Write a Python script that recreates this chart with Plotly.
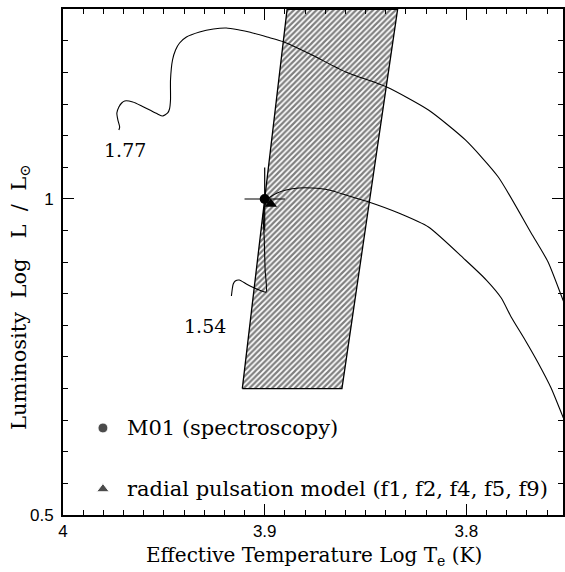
import plotly.graph_objects as go

# Evolutionary track, 1.77 Msun
track177_x = [3.9723, 3.9719, 3.9728, 3.9733, 3.9723, 3.9709, 3.9694, 3.9654, 3.9610, 3.9570,
              3.9531, 3.9506, 3.9481, 3.9472, 3.9467, 3.9467, 3.9457, 3.9442, 3.9422, 3.9388,
              3.9323, 3.9254, 3.9190, 3.9126, 3.9077, 3.8988, 3.8904, 3.8765, 3.8598, 3.8395,
              3.8188, 3.8005, 3.7842, 3.7679, 3.7595, 3.7521, 3.7500]
track177_y = [1.1092, 1.1139, 1.1250, 1.1361, 1.1456, 1.1519, 1.1551, 1.1535, 1.1472, 1.1408,
              1.1345, 1.1313, 1.1361, 1.1424, 1.1566, 1.1883, 1.2199, 1.2358, 1.2468, 1.2563,
              1.2642, 1.2690, 1.2706, 1.2674, 1.2642, 1.2563, 1.2484, 1.2278, 1.2009, 1.1772,
              1.1408, 1.0934, 1.0348, 0.9462, 0.9003, 0.8402, 0.8244]

# Evolutionary track, 1.54 Msun
track154_x = [3.9165, 3.9160, 3.9156, 3.9146, 3.9126, 3.9091, 3.9062, 3.9027, 3.8993, 3.8998,
              3.9002, 3.9007, 3.8998, 3.8978, 3.8938, 3.8894, 3.8830, 3.8765, 3.8681, 3.8583,
              3.8484, 3.8336, 3.8188, 3.8005, 3.7901, 3.7827, 3.7778, 3.7709, 3.7644, 3.7580,
              3.7521, 3.7501]
track154_y = [0.8465, 0.8592, 0.8655, 0.8703, 0.8718, 0.8655, 0.8608, 0.8560, 0.8528, 0.8877,
              0.9351, 0.9747, 0.9905, 1.0016, 1.0095, 1.0142, 1.0174, 1.0174, 1.0142, 1.0047,
              0.9953, 0.9778, 0.9557, 0.9035, 0.8718, 0.8434, 0.8133, 0.7769, 0.7405, 0.7009,
              0.6551, 0.6408]

track_labels = ["1.77", "1.54"]
track_label_x = [3.9694, 3.9294]
track_label_y = [1.0775, 0.7991]

# Instability strip (hatched band)
strip_x = [3.9111, 3.8889, 3.8341, 3.8617, 3.9111]
strip_y = [0.70, 1.30, 1.30, 0.70, 0.70]

# Observations
m01_x, m01_y, m01_ex, m01_ey = [3.900], [1.000], [0.010], [0.050]
puls_x, puls_y = [3.897], [0.992]

legend_labels = ["M01 (spectroscopy)", "radial pulsation model (f1, f2, f4, f5, f9)"]
legend_x = [3.9802, 3.9802]
legend_y = [0.6377, 0.5411]
legend_text_x = 3.9694
legend_symbols = ["circle", "triangle-up"]

x_range = [4.0, 3.7521]
y_range = [0.5, 1.3006]

serif = "DejaVu Serif"
NB = "\u00a0"
fig = go.Figure()

fig.add_trace(go.Scatter(
    x=strip_x, y=strip_y, mode="lines", fill="toself",
    fillcolor="white",
    fillpattern=dict(shape="/", size=4, solidity=0.55, fgcolor="black", bgcolor="white"),
    line=dict(color="black", width=1.3), hoverinfo="skip", showlegend=False))

for tx, ty in [(track177_x, track177_y), (track154_x, track154_y)]:
    fig.add_trace(go.Scatter(x=tx, y=ty, mode="lines",
                             line=dict(color="black", width=1.1, shape="spline", smoothing=0.6),
                             showlegend=False))

fig.add_trace(go.Scatter(
    x=m01_x, y=m01_y, mode="markers",
    marker=dict(symbol="circle", size=10, color="black"),
    error_x=dict(type="data", array=m01_ex, width=0, thickness=1.2, color="black"),
    error_y=dict(type="data", array=m01_ey, width=0, thickness=1.2, color="black"),
    showlegend=False))
fig.add_trace(go.Scatter(
    x=puls_x, y=puls_y, mode="markers",
    marker=dict(symbol="triangle-up", size=11, color="black"), showlegend=False))

fig.add_trace(go.Scatter(
    x=legend_x, y=legend_y, mode="markers",
    marker=dict(symbol=legend_symbols, size=[10, 11], color="black"), showlegend=False))

for lab, ly in zip(legend_labels, legend_y):
    fig.add_annotation(x=legend_text_x, y=ly, text=lab, showarrow=False, xanchor="left",
                       yanchor="middle", font=dict(family=serif, size=21, color="black"))

for lab, lx, ly in zip(track_labels, track_label_x, track_label_y):
    fig.add_annotation(x=lx, y=ly, text=lab, showarrow=False, xanchor="center",
                       yanchor="middle", font=dict(family=serif, size=19, color="black"))

fig.add_annotation(xref="paper", yref="paper", x=0.502, y=0, yshift=-41,
                   text="Effective Temperature Log T<sub>e</sub> (K)", showarrow=False,
                   xanchor="center", yanchor="middle",
                   font=dict(family=serif, size=20, color="black"))
fig.add_annotation(xref="paper", yref="paper", x=0, xshift=-43, y=0.4289,
                   text=f"Luminosity{NB}{NB}Log{NB}{NB}{NB}L{NB}{NB}/{NB}{NB}L<sub>⊙</sub>",
                   showarrow=False, textangle=-90,
                   xanchor="center", yanchor="middle",
                   font=dict(family=serif, size=21, color="black"))

axis_common = dict(showline=True, linecolor="black", linewidth=1.8, mirror="allticks",
                   ticks="inside", ticklen=11, tickwidth=1, tickcolor="black",
                   showgrid=False, zeroline=False,
                   tickfont=dict(family="Liberation Sans", size=17, color="black"))
fig.update_xaxes(range=x_range, tick0=4.0, dtick=0.1,
                 minor=dict(dtick=0.01, ticks="inside", ticklen=5, tickcolor="black", tickwidth=1,
                            showgrid=False),
                 **axis_common)
fig.update_yaxes(range=y_range, tick0=0, dtick=0.5, ticklabelstandoff=4,
                 minor=dict(dtick=0.05, ticks="inside", ticklen=5, tickcolor="black", tickwidth=1,
                            showgrid=False),
                 **axis_common)

fig.update_layout(width=565, height=572, autosize=False,
                  margin=dict(l=63, r=0, t=9, b=57, pad=0),
                  plot_bgcolor="white", paper_bgcolor="white", showlegend=False)

fig.write_html("out.html", config={"displayModeBar": False},
               post_script="document.body.style.margin='0';document.body.style.padding='0';"
                           "document.documentElement.style.overflow='hidden';")
